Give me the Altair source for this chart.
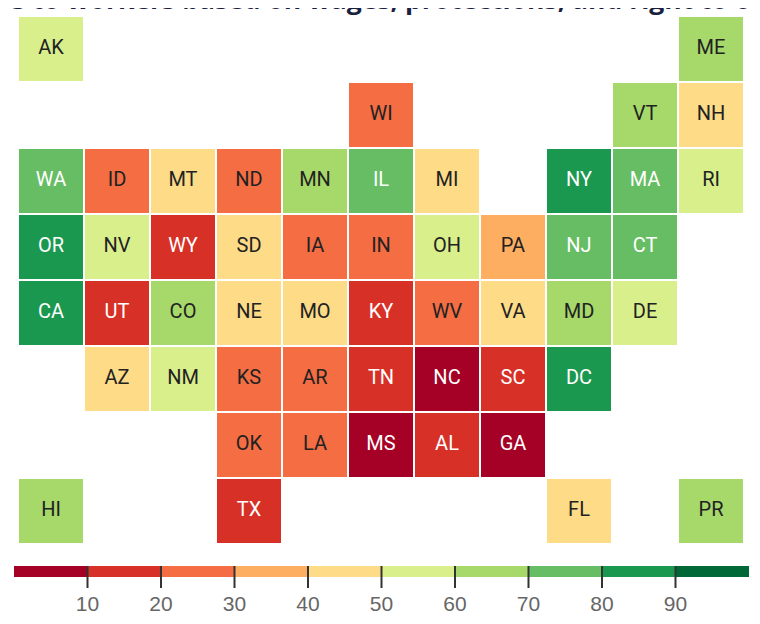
import altair as alt
import pandas as pd

states = ["AK","ME","WI","VT","NH","WA","ID","MT","ND","MN","IL","MI","NY","MA","RI",
          "OR","NV","WY","SD","IA","IN","OH","PA","NJ","CT",
          "CA","UT","CO","NE","MO","KY","WV","VA","MD","DE",
          "AZ","NM","KS","AR","TN","NC","SC","DC",
          "OK","LA","MS","AL","GA","HI","TX","FL","PR"]
cols = [0,10,5,9,10,0,1,2,3,4,5,6,8,9,10,
        0,1,2,3,4,5,6,7,8,9,
        0,1,2,3,4,5,6,7,8,9,
        1,2,3,4,5,6,7,8,
        3,4,5,6,7,0,3,8,10]
rows = [0,0,1,1,1,2,2,2,2,2,2,2,2,2,2,
        3,3,3,3,3,3,3,3,3,3,
        4,4,4,4,4,4,4,4,4,4,
        5,5,5,5,5,5,5,5,
        6,6,6,6,6,7,7,7,7]
scores = [55,65,25,65,45,75,25,45,25,65,75,45,85,75,55,
          85,55,15,45,25,25,55,35,75,75,
          85,15,65,45,45,15,25,45,65,55,
          45,55,25,25,15,5,15,85,
          25,25,5,15,5,65,15,45,65]
bins = [10,20,30,40,50,60,70,80,90]
palette = ["#a50026","#d73027","#f46d43","#fdae61","#fddb87","#d9ef8b","#a6d96a","#66bd63","#1a9850","#006837"]
legend_lo = [0,10,20,30,40,50,60,70,80,90]
legend_hi = [10,20,30,40,50,60,70,80,90,100]
title_text = ["s to workers based on wages, protections, and right to or"]

df = pd.DataFrame({"state":states,"c":cols,"r":rows,"score":scores})
df["c2"] = df["c"]+1
df["r2"] = df["r"]+1
df["cx"] = df["c"]+.5
df["cy"] = df["r"]+.5
df["light"] = (df["score"]<20)|(df["score"]>=70)
leg = pd.DataFrame({"lo":legend_lo,"hi":legend_hi})
ticks = pd.DataFrame({"v":bins})

W,H = 744,608
thr = alt.Scale(type="threshold",domain=bins,range=palette)
xs = alt.Scale(domain=[-10/66,(W-10)/66],nice=False,zero=False)
ys = alt.Scale(domain=[(H-8)/66,-8/66],nice=False,zero=False)

cells = alt.Chart(df).mark_rect(stroke="white",strokeWidth=2).encode(
    x=alt.X("c:Q",scale=xs,axis=None),x2="c2:Q",
    y=alt.Y("r:Q",scale=ys,axis=None),y2="r2:Q",
    color=alt.Color("score:Q",scale=thr,legend=None))
labels = alt.Chart(df).mark_text(font="Roboto",fontSize=20,dy=-1).encode(
    x=alt.X("cx:Q",scale=xs,axis=None),
    y=alt.Y("cy:Q",scale=ys,axis=None),
    text="state:N",
    color=alt.condition("datum.light",alt.value("#ffffff"),alt.value("#222222")))
head = alt.Chart(pd.DataFrame({"t":title_text})).mark_text(
    font="Open Sans",fontSize=26.5,fontWeight="bold",color="#1a1f3d",align="left",baseline="alphabetic"
).encode(x=alt.value(4),y=alt.value(1),text="t:N")

lx = alt.Scale(domain=[-6/7.35,(W-6)/7.35],nice=False,zero=False)
bar = alt.Chart(leg).mark_rect().encode(
    x=alt.X("lo:Q",scale=lx,axis=None),x2="hi:Q",
    y=alt.value(558),y2=alt.value(569),
    color=alt.Color("lo:Q",scale=thr,legend=None))
tk = alt.Chart(ticks).mark_rule(color="#333333",strokeWidth=2).encode(
    x=alt.X("v:Q",scale=lx,axis=None),y=alt.value(558),y2=alt.value(580))
tl = alt.Chart(ticks).mark_text(font="Liberation Sans",fontSize=21,color="#666666",baseline="middle").encode(
    x=alt.X("v:Q",scale=lx,axis=None),y=alt.value(597),text="v:Q")

chart = alt.layer(head,cells,labels,bar,tk,tl).resolve_scale(x="independent",y="independent").properties(
    width=W,height=H,padding=0,autosize=alt.AutoSizeParams(type="none")
).configure_view(stroke=None)
chart.save("out.html",embed_options={"renderer":"svg","actions":False})
